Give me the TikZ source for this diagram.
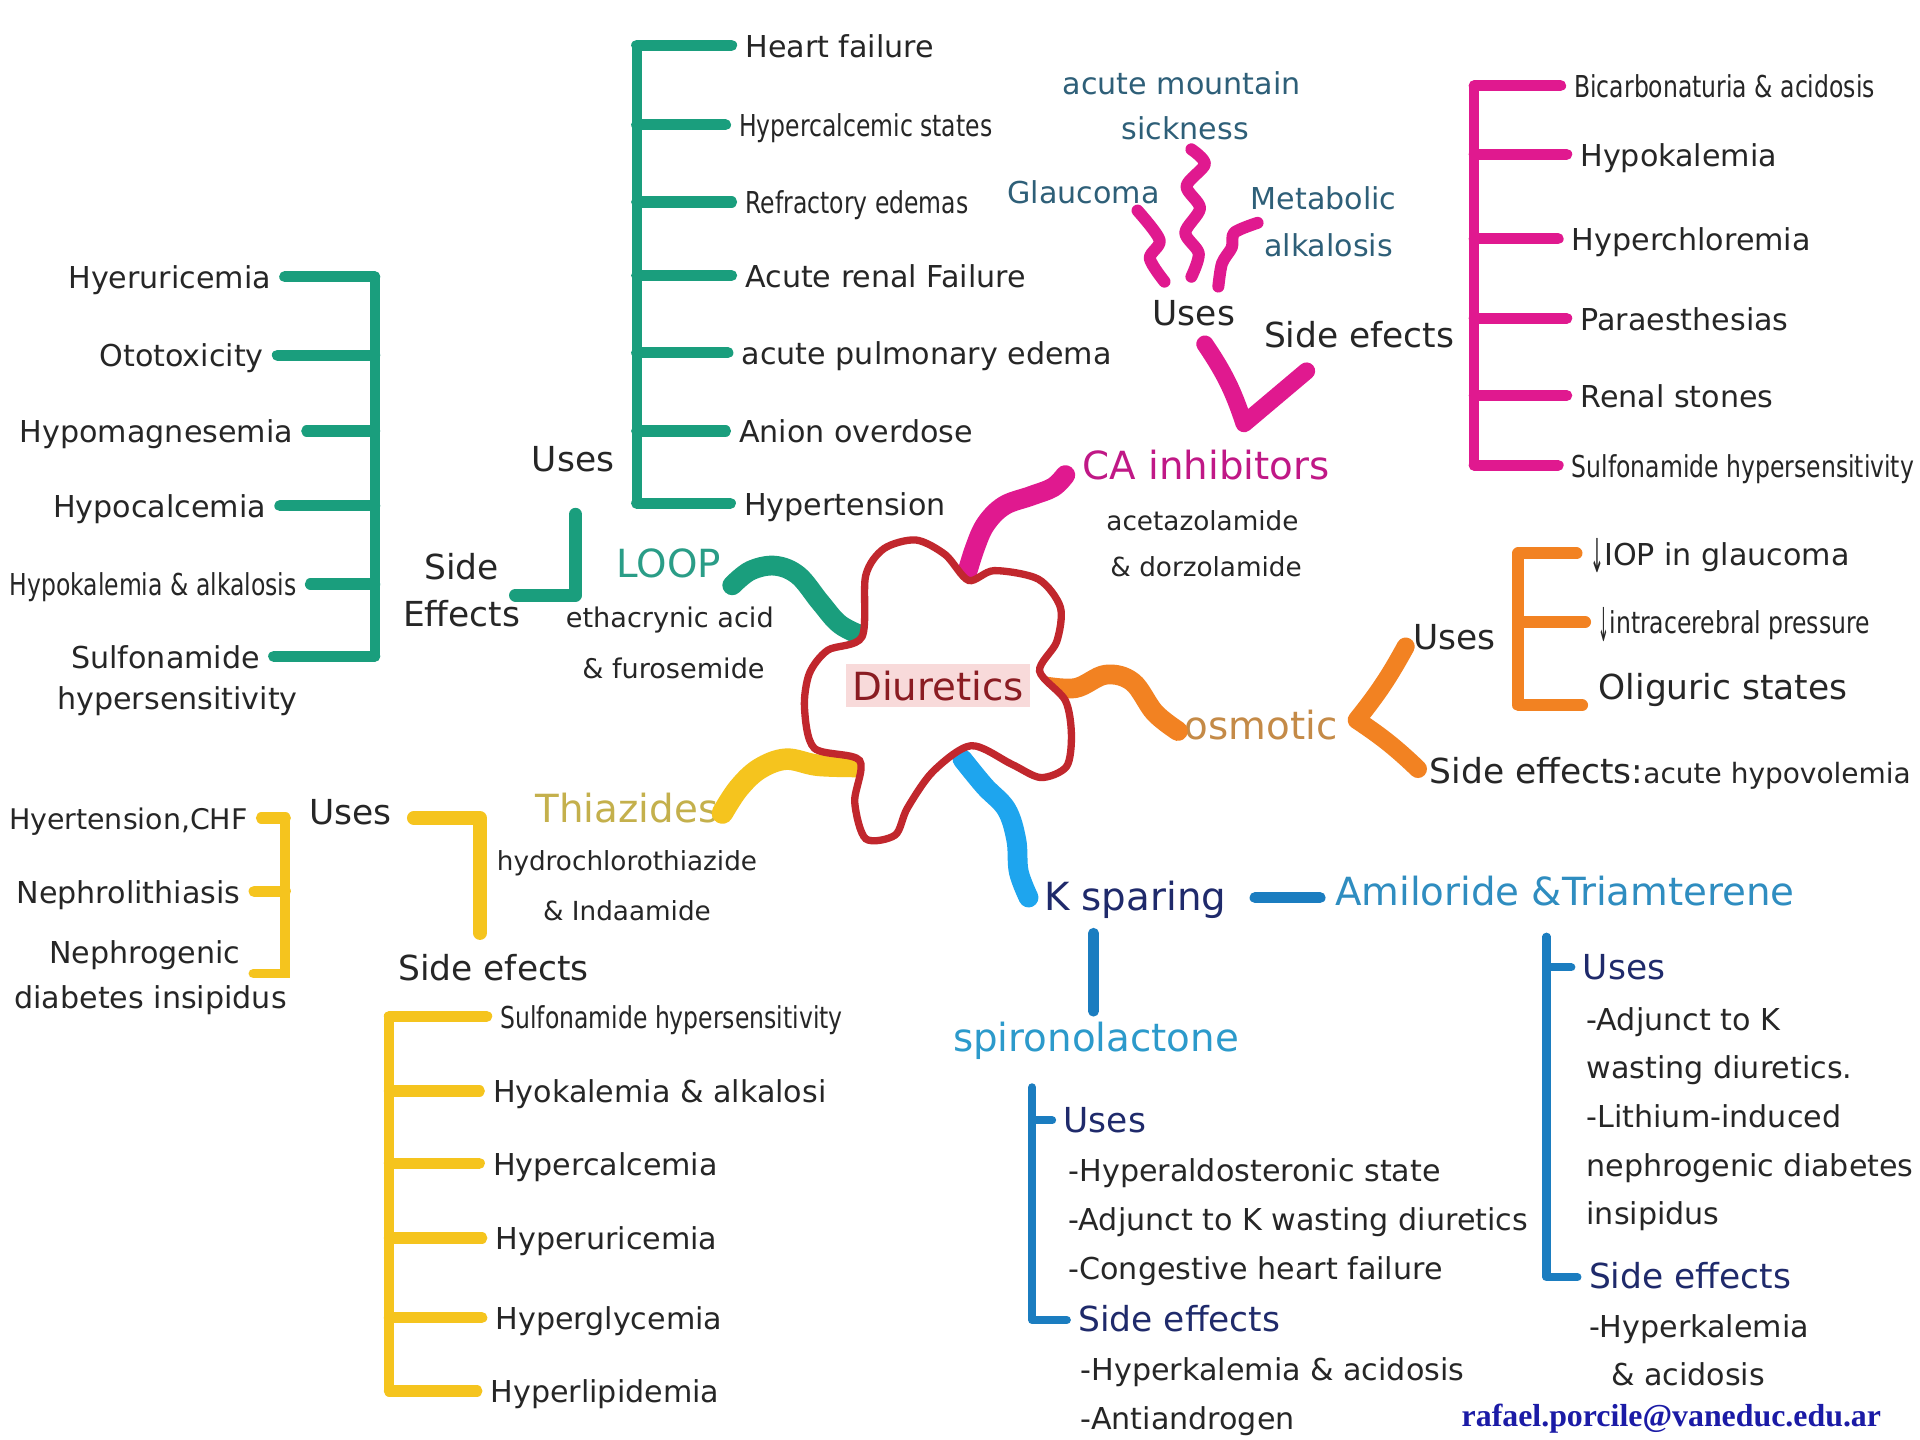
\documentclass[tikz,border=0pt]{standalone}
\usepackage{fontspec}
\usepackage{graphicx}
\setmainfont{DejaVu Sans}
\newfontfamily\cnd{DejaVu Sans}[FakeStretch=0.78]
\newfontfamily\mailfont{Liberation Serif}
\definecolor{ink}{HTML}{262626}
\definecolor{cGreen}{HTML}{1A9E7D}
\definecolor{cMag}{HTML}{E0198F}
\definecolor{cOra}{HTML}{F28222}
\definecolor{cYel}{HTML}{F5C41E}
\definecolor{cLBlue}{HTML}{1EA5EE}
\definecolor{cBlue}{HTML}{1B7DC0}
\definecolor{cRed}{HTML}{C1272D}
\definecolor{cDiu}{HTML}{8A1C22}
\definecolor{cPink}{HTML}{F8DADA}
\definecolor{cLoop}{HTML}{2A9D87}
\definecolor{cCA}{HTML}{C01886}
\definecolor{cOsm}{HTML}{C48A47}
\definecolor{cThz}{HTML}{C4B04C}
\definecolor{cNavy}{HTML}{1F2A6B}
\definecolor{cAmi}{HTML}{2F8DC0}
\definecolor{cSpiro}{HTML}{2C9ACB}
\definecolor{cSlate}{HTML}{2E5F78}
\definecolor{cMail}{HTML}{1B1BA6}
\newcommand{\dnarrow}{\raisebox{-0.25em}{\scalebox{0.55}[1.55]{↓}}}
\begin{document}
\begin{tikzpicture}[x=0.01cm,y=-0.01cm,
  txt/.style={inner sep=0pt, text=ink, font=\fontsize{7}{8.4}\selectfont},
  lw/.style={txt, anchor=mid west},
  le/.style={txt, anchor=mid east},
  cond/.style={font=\cnd\fontsize{7}{8.4}\selectfont},
  tsmall/.style={font=\fontsize{6.1}{7}\selectfont},
  tmed/.style={font=\fontsize{8}{11}\selectfont},
  tbig/.style={inner sep=0pt, font=\fontsize{9}{10.8}\selectfont},
  bar/.style={line width=2.6pt, line cap=round, line join=round},
  tk/.style={bar, shorten >=3pt},
  spine/.style={line width=2.3pt, line cap=round},
  kb/.style={line width=1.9pt, line cap=round, line join=round, draw=cBlue},
  wave/.style={line width=4.6pt, line cap=round, line join=round},
  wig/.style={line width=2.8pt, line cap=round, line join=round, draw=cMag}]
\fill[white] (0,0) rectangle (1568,1176);
\useasboundingbox (0,0) rectangle (1568,1176);

% ---------- LOOP : uses
\node[lw] (hf) at (608,37) {Heart failure};
\node[lw,cond] (hcs) at (603,102) {Hypercalcemic states};
\node[lw,cond] (ref) at (608,165) {Refractory edemas};
\node[lw] (arf) at (608,225) {Acute renal Failure};
\node[lw] (ape) at (605,288) {acute pulmonary edema};
\node[lw] (ano) at (603,352) {Anion overdose};
\node[lw] (hyt) at (607,411) {Hypertension};
\coordinate (lus) at (520,0);
\draw[spine,cGreen] (lus |- hf.mid west) -- (lus |- hyt.mid west);
\foreach \n in {hf,hcs,ref,arf,ape,ano,hyt}
  \draw[tk,cGreen] (lus |- \n.mid west) -- (\n.mid west);

% ---------- LOOP : side effects
\node[le] (s1) at (222,226) {Hyeruricemia};
\node[le] (s2) at (216,290) {Ototoxicity};
\node[le] (s3) at (240,352) {Hypomagnesemia};
\node[le] (s4) at (218,413) {Hypocalcemia};
\node[le,cond] (s5) at (243,477) {Hypokalemia \& alkalosis};
\node[le] (s6) at (213,536) {Sulfonamide};
\node[txt] (s6b) at (145,573) {hypersensitivity};
\coordinate (lss) at (306,0);
\draw[spine,cGreen] (lss |- s1.mid east) -- (lss |- s6.mid east);
\foreach \n in {s1,s2,s3,s4,s5,s6}
  \draw[tk,cGreen] (lss |- \n.mid east) -- (\n.mid east);

\node[txt,tmed,align=center] (lse) at (377,482) {Side\\Effects};
\node[txt,tmed] (luses) at (468,375) {Uses};
\coordinate (lL1) at (470,420);
\coordinate (lL2) at (470,486);
\coordinate (lL3) at (421,486);
\draw[bar,line width=3pt,cGreen] (lL1) -- (lL2) -- (lL3);

\node[tbig,text=cLoop] (loop) at (546,460) {LOOP};
\node[txt,font=\fontsize{6.3}{7}\selectfont] (eth) at (547,506) {ethacrynic acid};
\node[txt,font=\fontsize{6.3}{7}\selectfont] (furo) at (550,546) {\& furosemide};

% ---------- CA inhibitors
\node[tbig,text=cCA] (ca) at (985,380) {CA inhibitors};
\node[txt,tsmall] (aceta) at (982,425) {acetazolamide};
\node[txt,tsmall] (dorzo) at (985,463) {\& dorzolamide};
\node[txt,tmed] (causes) at (975,256) {Uses};
\node[txt,tmed] (case) at (1110,273) {Side efects};
\node[txt,text=cSlate] (ams1) at (965,68) {acute mountain};
\node[txt,text=cSlate] (ams2) at (968,105) {sickness};
\node[txt,text=cSlate] (glau) at (885,157) {Glaucoma};
\node[txt,text=cSlate] (meta1) at (1081,162) {Metabolic};
\node[txt,text=cSlate] (meta2) at (1085,200) {alkalosis};

\coordinate (wgA) at (929,172);  \coordinate (wgB) at (951,230);
\coordinate (wmA) at (973,122);  \coordinate (wmB) at (973,226);
\coordinate (wrA) at (1027,182); \coordinate (wrB) at (995,234);
\draw[wig] plot[smooth,tension=0.5] coordinates {(wgA) (947,196) (939,211) (wgB)};
\draw[wig] plot[smooth,tension=0.5] coordinates {(wmA) (984,134) (969,152) (980,170) (968,190) (979,207) (wmB)};
\draw[wig] plot[smooth,tension=0.5] coordinates {(wrA) (1008,190) (1006,202) (998,215) (wrB)};
\coordinate (vA) at (984,281); \coordinate (vB) at (1016,346); \coordinate (vC) at (1067,303);
\draw[wave,line width=4pt,cMag] (vA) to[bend left=8] (vB) -- (vC);

\node[lw,cond] (m1) at (1285,70) {Bicarbonaturia \& acidosis};
\node[lw] (m2) at (1290,126) {Hypokalemia};
\node[lw] (m3) at (1283,195) {Hyperchloremia};
\node[lw] (m4) at (1290,260) {Paraesthesias};
\node[lw] (m5) at (1290,323) {Renal stones};
\node[lw,cond] (m6) at (1283,380) {Sulfonamide hypersensitivity};
\coordinate (mss) at (1204,0);
\draw[spine,cMag] (mss |- m1.mid west) -- (mss |- m6.mid west);
\foreach \n in {m1,m2,m3,m4,m5,m6}
  \draw[tk,cMag] (mss |- \n.mid west) -- (\n.mid west);

% ---------- osmotic
\node[tbig,text=cOsm] (osm) at (1030,592) {osmotic};
\node[txt,tmed] (ouses) at (1188,520) {Uses};
\node[lw,tmed] (ose) at (1167,630) {Side effects:{\fontsize{6.5}{7}\selectfont acute hypovolemia}};
\coordinate (oc1) at (1148,528); \coordinate (oc2) at (1108,588); \coordinate (oc3) at (1158,628);
\draw[wave,line width=4.2pt,cOra] (oc1) to[bend left=5] (oc2) to[bend left=5] (oc3);
\node[lw] (iop) at (1298,452) {\dnarrow IOP in glaucoma};
\node[lw,cond] (icp) at (1305,508) {\dnarrow intracerebral pressure};
\node[lw,tmed] (oli) at (1305,562) {Oliguric states};
\coordinate (oE1) at (1240,452); \coordinate (oE3) at (1240,576); \coordinate (oE3r) at (1292,576);
\draw[bar,line width=2.8pt,cOra,shorten <=3pt] (iop.mid west) -- (oE1 |- iop.mid west) -- (oE3) -- (oE3r);
\draw[tk,line width=2.8pt,cOra] (oE1 |- icp.mid west) -- (icp.mid west);

% ---------- Thiazides
\node[tbig,text=cThz] (thz) at (512,660) {Thiazides};
\node[txt,tsmall] (hct) at (512,705) {hydrochlorothiazide};
\node[txt,tsmall] (inda) at (512,744) {\& Indaamide};
\node[txt,tmed] (tuses) at (286,663) {Uses};
\node[txt,tmed] (tse) at (403,790) {Side efects};
\coordinate (ty1) at (338,668); \coordinate (ty2) at (392,668); \coordinate (ty3) at (392,762);
\draw[bar,line width=3.2pt,cYel] (ty1) -- (ty2) -- (ty3);

\node[le,font=\fontsize{6.6}{8}\selectfont] (tl1) at (203,668) {Hyertension,CHF};
\node[le] (tl2) at (197,728) {Nephrolithiasis};
\node[le] (tl3) at (197,777) {Nephrogenic};
\node[txt] (tl4) at (123,817) {diabetes insipidus};
\coordinate (tls) at (233,0);
\coordinate (tlb) at (207,795);
\draw[spine,cYel] (tls |- tl1.mid east) -- (tls |- tlb) -- (tlb);
\foreach \n in {tl1,tl2}
  \draw[tk,cYel] (tls |- \n.mid east) -- (\n.mid east);

\node[lw,cond] (tr1) at (408,830) {Sulfonamide hypersensitivity};
\node[lw] (tr2) at (402,891) {Hyokalemia \& alkalosi};
\node[lw] (tr3) at (402,950) {Hypercalcemia};
\node[lw] (tr4) at (404,1011) {Hyperuricemia};
\node[lw] (tr5) at (404,1076) {Hyperglycemia};
\node[lw] (tr6) at (400,1136) {Hyperlipidemia};
\coordinate (trs) at (318,0);
\draw[spine,cYel] (trs |- tr1.mid west) -- (trs |- tr6.mid west);
\foreach \n in {tr1,tr2,tr3,tr4,tr5,tr6}
  \draw[tk,cYel] (trs |- \n.mid west) -- (\n.mid west);

% ---------- K sparing
\node[tbig,text=cNavy] (ksp) at (927,735) {K sparing};
\node[tbig,text=cAmi] (ami) at (1278,728) {Amiloride \&Triamterene};
\node[tbig,text=cSpiro] (spi) at (895,850) {spironolactone};
\coordinate (kA1) at (1025,733); \coordinate (kA2) at (1078,733);
\coordinate (kV1) at (893,762); \coordinate (kV2) at (893,826);
\draw[kb,line width=2.6pt] (kA1) -- (kA2);
\draw[kb,line width=2.4pt] (kV1) -- (kV2);

\node[lw,tmed,text=cNavy] (su) at (868,915) {Uses};
\node[lw] (sa) at (872,955) {-Hyperaldosteronic state};
\node[lw] (sb) at (872,995) {-Adjunct to K wasting diuretics};
\node[lw] (sc) at (872,1035) {-Congestive heart failure};
\node[lw,tmed,text=cNavy] (sse) at (880,1078) {Side effects};
\node[lw] (sd) at (882,1118) {-Hyperkalemia \& acidosis};
\node[lw] (sf) at (882,1158) {-Antiandrogen};
\coordinate (ssp) at (843,888);
\draw[kb,shorten >=2.5pt] (ssp) -- (ssp |- sse.mid west) -- (sse.mid west);
\draw[kb,shorten >=2.5pt] (ssp |- su.mid west) -- (su.mid west);

\node[lw,tmed,text=cNavy] (au) at (1292,790) {Uses};
\node[lw] (a1) at (1295,832) {-Adjunct to K};
\node[lw] (a2) at (1295,871) {wasting diuretics.};
\node[lw] (a3) at (1295,911) {-Lithium-induced};
\node[lw] (a4) at (1295,951) {nephrogenic diabetes};
\node[lw] (a5) at (1295,990) {insipidus};
\node[lw,tmed,text=cNavy] (ase) at (1297,1043) {Side effects};
\node[lw] (a6) at (1297,1083) {-Hyperkalemia};
\node[lw] (a7) at (1315,1122) {\& acidosis};
\coordinate (asp) at (1263,765);
\draw[kb,shorten >=2.5pt] (asp) -- (asp |- ase.mid west) -- (ase.mid west);
\draw[kb,shorten >=2.5pt] (asp |- au.mid west) -- (au.mid west);

\node[anchor=mid west,inner sep=0pt,text=cMail,font=\mailfont\bfseries\fontsize{7.4}{9}\selectfont] (mail) at (1193,1155) {rafael.porcile@vaneduc.edu.ar};

% ---------- central connectors
\coordinate (gS) at (598,478);  \coordinate (gE) at (706,520);
\coordinate (pS) at (788,474);  \coordinate (pE) at (870,388);
\coordinate (oS) at (850,560);  \coordinate (oE) at (962,597);
\coordinate (yS) at (590,664);  \coordinate (yE) at (702,626);
\coordinate (bS) at (786,620);  \coordinate (bE) at (840,733);
\draw[wave,cGreen] plot[smooth,tension=0.6] coordinates {(gS) (613,466) (633,462) (652,470) (670,492) (686,510) (gE)};
\draw[wave,cMag] plot[smooth,tension=0.6] coordinates {(pS) (796,448) (805,428) (820,413) (842,405) (860,398) (pE)};
\draw[wave,cOra] plot[smooth,tension=0.6] coordinates {(oS) (878,562) (903,551) (925,557) (943,582) (oE)};
\draw[wave,line width=5pt,cYel] plot[smooth,tension=0.6] coordinates {(yS) (603,644) (620,628) (642,620) (668,625) (yE)};
\draw[wave,cLBlue] plot[smooth,tension=0.6] coordinates {(bS) (804,642) (822,661) (830,686) (832,712) (bE)};

% ---------- central blob
\draw[cRed,line width=1.7pt,fill=white] plot[smooth cycle,tension=0.5] coordinates {
 (704,520) (707,470) (722,448) (748,441) (772,453) (791,474) (812,466) (848,473)
 (866,496) (863,524) (849,548) (870,572) (875,600) (871,626) (850,635) (826,624)
 (793,609) (762,630) (741,660) (731,682) (707,685) (698,655) (702,621) (665,611)
 (657,578) (661,550) (676,531)};
\node[inner sep=1.5pt,fill=cPink,text=cDiu,font=\fontsize{9}{10.8}\selectfont] (diu) at (766,560) {Diuretics};
\end{tikzpicture}
\end{document}
